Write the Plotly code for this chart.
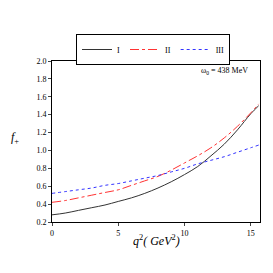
import plotly.graph_objects as go

q2 = [0, 1, 2, 3, 4, 5, 6, 7, 8, 9, 10, 11, 12, 13, 14, 15, 15.6]
f_I = [0.28, 0.30, 0.33, 0.36, 0.39, 0.43, 0.47, 0.52, 0.58, 0.65, 0.73, 0.82, 0.94, 1.07, 1.23, 1.41, 1.50]
f_II = [0.42, 0.44, 0.47, 0.50, 0.53, 0.56, 0.61, 0.66, 0.71, 0.78, 0.86, 0.94, 1.03, 1.14, 1.27, 1.42, 1.52]
f_III = [0.52, 0.54, 0.56, 0.58, 0.61, 0.63, 0.66, 0.69, 0.72, 0.76, 0.80, 0.85, 0.89, 0.93, 0.98, 1.03, 1.06]
names = ["I", "II", "III"]
x_ticks = [0, 5, 10, 15]
y_ticks = [0.2, 0.4, 0.6, 0.8, 1.0, 1.2, 1.4, 1.6, 1.8, 2.0]

serif = "Liberation Serif"
W = H = 265  # page body margin of 8px shifts the figure
fig = go.Figure()
fig.add_trace(go.Scatter(x=q2, y=f_I, mode="lines", name=names[0], line=dict(color="#333333", width=1, shape="spline")))
fig.add_trace(go.Scatter(x=q2, y=f_II, mode="lines", name=names[1], line=dict(color="#ff3333", width=1, dash="dashdot", shape="spline")))
fig.add_trace(go.Scatter(x=q2, y=f_III, mode="lines", name=names[2], line=dict(color="#3333ff", width=1, dash="dot", shape="spline")))

fig.update_layout(
    width=W, height=H,
    margin=dict(l=44, r=13, t=53, b=51, autoexpand=False),
    paper_bgcolor="white", plot_bgcolor="white",
    font=dict(family=serif, size=8, color="black"),
    legend=dict(orientation="h", x=68 / W, y=1 - 26 / H, xref="container", yref="container",
                xanchor="left", yanchor="top",
                bordercolor="black", borderwidth=1, font=dict(family=serif, size=8),
                itemwidth=30, tracegroupgap=0),
    xaxis=dict(range=[0, 15.7], tickvals=x_ticks, ticks="outside", ticklen=3,
               showline=True, linecolor="black", linewidth=1, mirror=True,
               showgrid=False, zeroline=False, automargin=False),
    yaxis=dict(range=[0.2, 2.0], tickvals=y_ticks, tickformat=".1f", ticks="outside", ticklen=3,
               showline=True, linecolor="black", linewidth=1, mirror=True,
               showgrid=False, zeroline=False, automargin=False),
    annotations=[
        dict(text="ω<sub>0</sub> = 438 MeV", x=0.95, y=0.98, xref="paper", yref="paper",
             xanchor="right", yanchor="top", showarrow=False, font=dict(family=serif, size=8)),
        dict(text="<i>f</i><sub>+</sub>", x=-0.15, y=0.52, xref="paper", yref="paper",
             xanchor="right", yanchor="middle", showarrow=False, font=dict(family=serif, size=12)),
        dict(text="<i>q</i><sup>2</sup><i>( GeV</i><sup>2</sup><i>)</i>", x=0.5, y=-0.055, xref="paper", yref="paper",
             xanchor="center", yanchor="top", showarrow=False, font=dict(family=serif, size=12)),
    ],
)
fig.write_html("out.html")
